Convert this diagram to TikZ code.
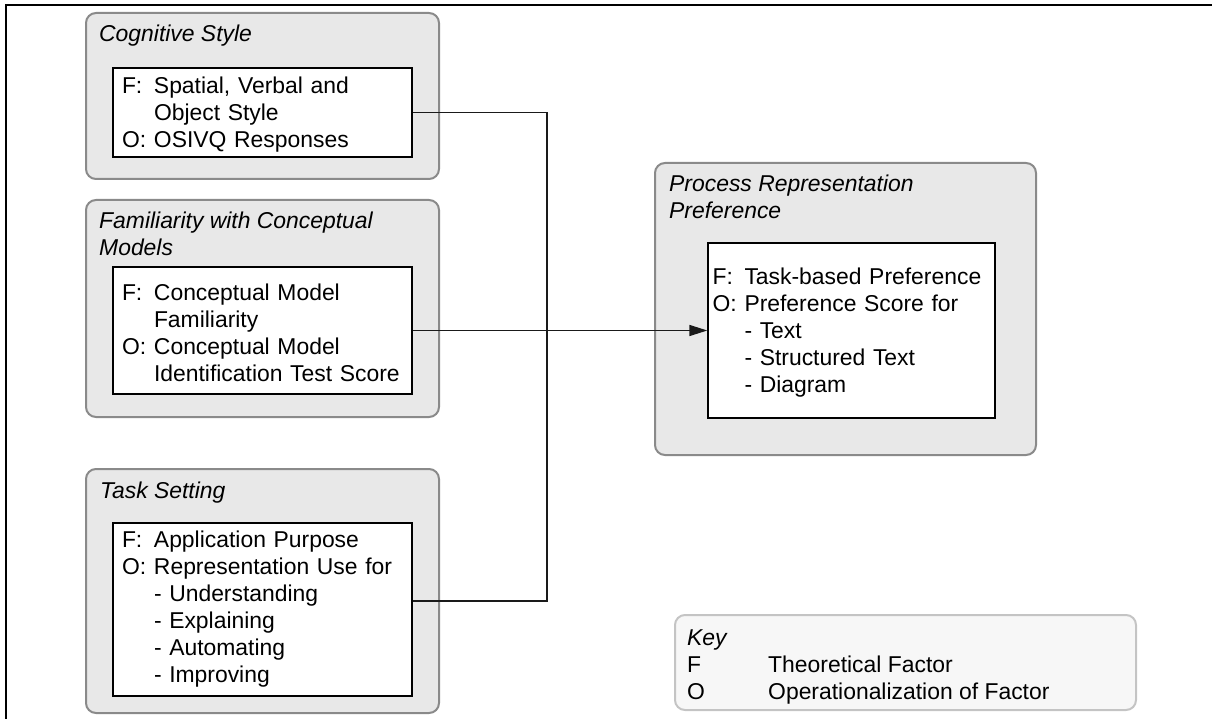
\documentclass[tikz,border=0pt]{standalone}
\usepackage{fontspec}
\setmainfont{Liberation Sans}
\usetikzlibrary{arrows.meta}
\definecolor{grpfill}{HTML}{E8E8E8}
\definecolor{grpline}{HTML}{8A8A8A}
\definecolor{keyfill}{HTML}{F7F7F7}
\definecolor{keyline}{HTML}{C4C4C4}
\definecolor{connline}{HTML}{1A1A1A}
\newcommand\fitem[1]{\makebox[32pt][l]{#1}}
\newcommand\findent{\hspace*{32pt}}
\newcommand\rowtxt[1]{\mbox{#1}}
\newcommand\toplift{\rule{0pt}{21.5pt}}
\tikzset{
  basefont/.style={font=\fontsize{22.9}{27}\selectfont},
  group/.style={draw=grpline, fill=grpfill, line width=2pt, rounded corners=10pt, rectangle, inner sep=0pt},
  keybox/.style={draw=keyline, fill=keyfill, line width=2pt, rounded corners=10pt, rectangle, inner sep=0pt},
  factor/.style={draw=black, fill=white, line width=1.4pt, rectangle, align=left, inner ysep=0pt, basefont},
  grptitle/.style={font=\itshape\fontsize{22.9}{27}\selectfont, align=left, inner sep=0pt, anchor=base west},
  conn/.style={draw=connline, line width=1.5pt},
}
\begin{document}
\begin{tikzpicture}[x=1pt,y=-1pt]
\useasboundingbox (0,0) rectangle (1212,719);
% outer frame (partly visible)
\draw[line width=2.5pt] (6,725) -- (6,5) -- (1220,5);

% groups
\node[group, minimum width=353pt, minimum height=166pt] (cogG) at (262.5,96) {};
\node[group, minimum width=353pt, minimum height=217pt] (famG) at (262.5,308.5) {};
\node[group, minimum width=353pt, minimum height=244pt] (taskG) at (262.5,591) {};
\node[group, minimum width=381pt, minimum height=292pt] (procG) at (845.5,309) {};
\node[keybox, minimum width=461pt, minimum height=95pt] (keyG) at (905.5,662.5) {};

% titles (base anchor = baseline of the last line)
\node[grptitle] (cogT) at (99,42) {Cognitive Style};
\node[grptitle] (famT) at (99,256) {Familiarity with Conceptual\\Models};
\node[grptitle] (taskT) at (100,498) {Task Setting};
\node[grptitle] (procT) at (669,219) {Process Representation\\Preference};

% factor boxes
\node[factor, inner xsep=9pt, text width=281pt, minimum height=89pt] (cogI) at (262.5,112.5)
  {\rowtxt{\toplift\fitem{F:}Spatial, Verbal and}\\\rowtxt{\findent Object Style}\\\rowtxt{\fitem{O:}OSIVQ Responses}};
\node[factor, inner xsep=9pt, text width=281pt, minimum height=127pt] (famI) at (262.5,330.5)
  {\rowtxt{\toplift\fitem{F:}Conceptual Model}\\\rowtxt{\findent Familiarity}\\\rowtxt{\fitem{O:}Conceptual Model}\\\rowtxt{\findent Identification Test Score}};
\node[factor, inner xsep=9pt, text width=281pt, minimum height=173pt] (taskI) at (262.5,609.5)
  {\rowtxt{\fitem{F:}Application Purpose}\\\rowtxt{\fitem{O:}Representation Use for}\\\rowtxt{\findent - Understanding}\\\rowtxt{\findent - Explaining}\\\rowtxt{\findent - Automating}\\\rowtxt{\findent - Improving}};
\node[factor, inner xsep=4.5pt, text width=278pt, minimum height=175pt] (procI) at (851.5,330.5)
  {\rowtxt{\toplift\fitem{F:}Task-based Preference}\\\rowtxt{\fitem{O:}Preference Score for}\\\rowtxt{\findent - Text}\\\rowtxt{\findent - Structured Text}\\\rowtxt{\findent - Diagram}};

% key text
\node[basefont, align=left, inner sep=0pt, anchor=base west] (keyT) at (687,699)
  {\textit{Key}\\\makebox[81pt][l]{F}Theoretical Factor\\\makebox[81pt][l]{O}Operationalization of Factor};

% connectors
\coordinate (taskJ) at ([yshift=8.5pt]taskI.east);
\coordinate (busX) at (547,0);
\draw[conn] (cogI.east) -| (busX |- taskJ) -- (taskJ);
\draw[conn, -{Triangle[length=18pt,width=11pt]}] (famI.east) -- (procI.west);
\end{tikzpicture}
\end{document}
